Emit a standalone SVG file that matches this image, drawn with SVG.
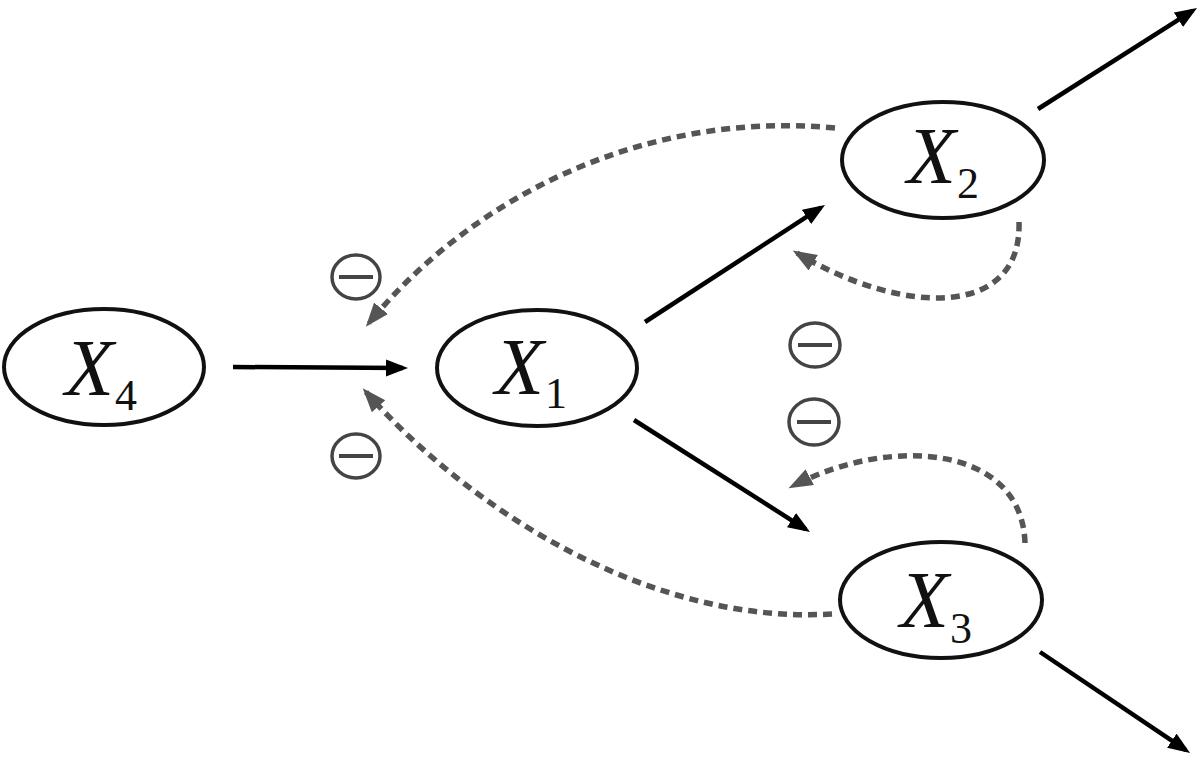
<svg xmlns="http://www.w3.org/2000/svg" width="1200" height="769" viewBox="0 0 1200 769">
<style>
.node ellipse{fill:#fff;stroke:#111;stroke-width:4}
.xv{font-family:"Liberation Serif",serif;font-style:italic;font-size:80px;fill:#111}
.sub{font-family:"Liberation Serif",serif;font-size:44px;fill:#111}
.solid{fill:none;stroke:#000;stroke-width:4.5;marker-end:url(#ab)}
.dash{fill:none;stroke:#555;stroke-width:5.5;stroke-dasharray:9 6;marker-end:url(#ag)}
.minus ellipse{fill:none;stroke:#444;stroke-width:3.5}
.minus line{stroke:#444;stroke-width:4}
</style>
<defs>
<marker id="ab" markerUnits="userSpaceOnUse" markerWidth="24" markerHeight="18" refX="17" refY="8.5" orient="auto"><path d="M0,0 L22,8.5 L0,17 z" fill="#000"/></marker>
<marker id="ag" markerUnits="userSpaceOnUse" markerWidth="26" markerHeight="20" refX="19" refY="9" orient="auto"><path d="M0,0 L24,9 L0,18 z" fill="#555"/></marker>
</defs>
<rect width="1200" height="769" fill="#fff"/>
<g id="connectors">
<path class="solid" d="M233,367 L403,368"/>
<path class="solid" d="M645,322 L820.8,207.7"/>
<path class="solid" d="M634,420 L805.8,529.3"/>
<path class="solid" d="M1038,109 L1192.8,10.7"/>
<path class="solid" d="M1040,652 L1185.9,750.2"/>
<path class="dash" d="M835,128 C640,110 470,200 369,323"/>
<path class="dash" d="M832,614 C650,625 470,510 366,392"/>
<path class="dash" d="M1019,222 C1022,320 900,315 797,253"/>
<path class="dash" d="M1025,543 C1022,445 890,435 793,486"/>
</g>
<g id="minus-signs">
<g class="minus"><ellipse cx="356" cy="277" rx="24" ry="22"/><line x1="339" y1="277" x2="373" y2="277"/></g>
<g class="minus"><ellipse cx="356" cy="456" rx="24" ry="22"/><line x1="339" y1="456" x2="373" y2="456"/></g>
<g class="minus"><ellipse cx="815" cy="345" rx="25" ry="22"/><line x1="798" y1="345" x2="832" y2="345"/></g>
<g class="minus"><ellipse cx="814" cy="422" rx="25" ry="23"/><line x1="797" y1="422" x2="831" y2="422"/></g>
</g>
<g id="X4" class="node"><ellipse cx="104" cy="367" rx="100" ry="58"/><text class="xv" x="65" y="395">X</text><text class="sub" x="115" y="410">4</text></g>
<g id="X1" class="node"><ellipse cx="537" cy="368" rx="100" ry="58"/><text class="xv" x="495" y="394">X</text><text class="sub" x="545" y="408">1</text></g>
<g id="X2" class="node"><ellipse cx="943" cy="160" rx="101" ry="58"/><text class="xv" x="907" y="183">X</text><text class="sub" x="957" y="198">2</text></g>
<g id="X3" class="node"><ellipse cx="941" cy="600" rx="101" ry="58"/><text class="xv" x="900" y="627">X</text><text class="sub" x="950" y="643">3</text></g>
</svg>
